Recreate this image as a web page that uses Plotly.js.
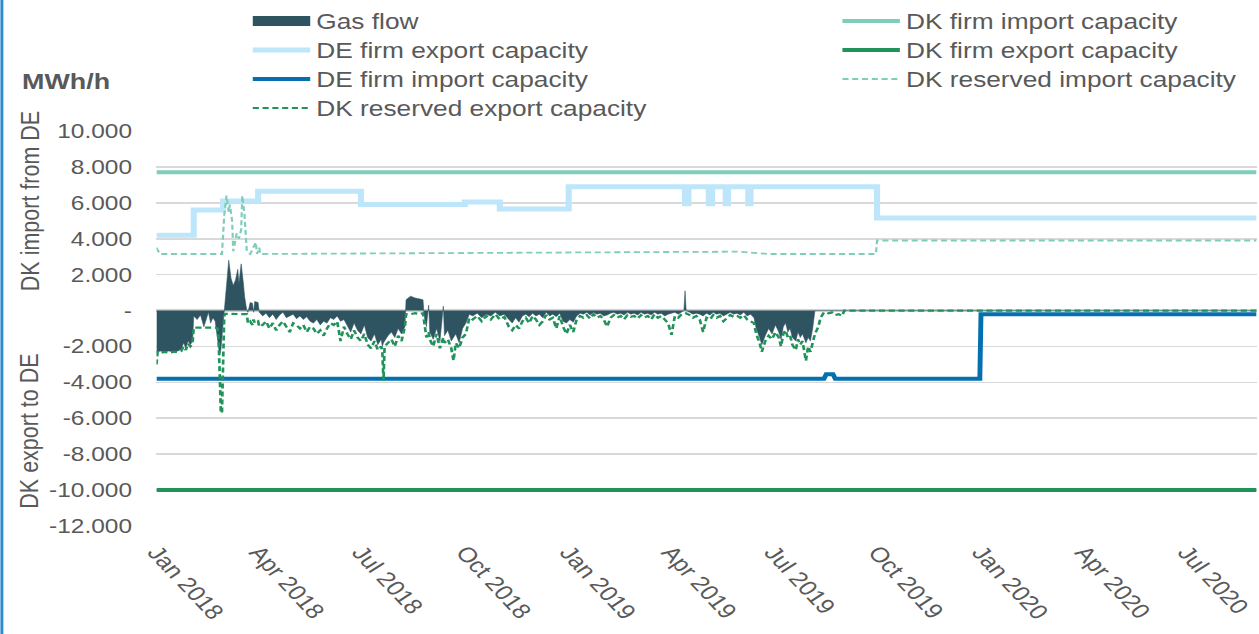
<!DOCTYPE html>
<html>
<head>
<meta charset="utf-8">
<script src="https://cdn.plot.ly/plotly-3.0.1.min.js"></script>
<style>
  html, body { margin: 0; padding: 0; background: #ffffff; }
  #wrap { width: 1259px; height: 634px; overflow: hidden; position: relative; }
  #chart { width: 1030px; height: 634px; transform: scaleX(1.22233); transform-origin: 0 0; }
</style>
</head>
<body>
<div id="wrap"><div id="chart"></div></div>
<script>
// ---------- data (MWh/h) ----------
const flowDates = [
 "2018-01-01","2018-01-02","2018-01-05","2018-01-08","2018-01-12","2018-01-16","2018-01-20","2018-01-23","2018-01-25","2018-01-27",
 "2018-01-29","2018-01-31","2018-02-02","2018-02-03","2018-02-06","2018-02-09","2018-02-12","2018-02-14","2018-02-16","2018-02-18",
 "2018-02-20","2018-02-22","2018-02-24","2018-02-25","2018-02-26","2018-02-27","2018-02-28","2018-03-01","2018-03-02","2018-03-03",
 "2018-03-04","2018-03-06","2018-03-08","2018-03-10","2018-03-12","2018-03-14","2018-03-15","2018-03-17","2018-03-19","2018-03-20",
 "2018-03-22","2018-03-23","2018-03-25","2018-03-27","2018-03-28","2018-03-29","2018-04-01","2018-04-02","2018-04-05","2018-04-08",
 "2018-04-11","2018-04-14","2018-04-17","2018-04-20","2018-04-23","2018-04-26","2018-04-29","2018-05-02","2018-05-05","2018-05-08",
 "2018-05-11","2018-05-14","2018-05-17","2018-05-20","2018-05-23","2018-05-26","2018-05-29","2018-06-01","2018-06-04","2018-06-07",
 "2018-06-10","2018-06-13","2018-06-16","2018-06-19","2018-06-22","2018-06-25","2018-06-28","2018-07-01","2018-07-04","2018-07-07",
 "2018-07-10","2018-07-13","2018-07-16","2018-07-19","2018-07-20","2018-07-21","2018-07-22","2018-07-25","2018-07-28","2018-07-31",
 "2018-08-03","2018-08-06","2018-08-09","2018-08-10","2018-08-14","2018-08-18","2018-08-22","2018-08-25","2018-08-26","2018-08-28",
 "2018-08-30","2018-08-31","2018-09-03","2018-09-06","2018-09-09","2018-09-12","2018-09-13","2018-09-16","2018-09-19","2018-09-21",
 "2018-09-23","2018-09-26","2018-09-29","2018-10-02","2018-10-05","2018-10-08","2018-10-12","2018-10-16","2018-10-20","2018-10-24",
 "2018-10-28","2018-11-01","2018-11-05","2018-11-09","2018-11-12","2018-11-15","2018-11-18","2018-11-21","2018-11-24","2018-11-27",
 "2018-11-30","2018-12-03","2018-12-06","2018-12-09","2018-12-12","2018-12-15","2018-12-18","2018-12-21","2018-12-24","2018-12-27",
 "2018-12-30","2019-01-02","2019-01-05","2019-01-08","2019-01-11","2019-01-14","2019-01-17","2019-01-20","2019-01-23","2019-01-26",
 "2019-01-29","2019-02-01","2019-02-04","2019-02-07","2019-02-10","2019-02-13","2019-02-16","2019-02-19","2019-02-22","2019-02-25",
 "2019-02-28","2019-03-03","2019-03-06","2019-03-09","2019-03-12","2019-03-15","2019-03-18","2019-03-21","2019-03-24","2019-03-27",
 "2019-03-30","2019-04-02","2019-04-05","2019-04-08","2019-04-11","2019-04-13","2019-04-14","2019-04-15","2019-04-18","2019-04-21",
 "2019-04-24","2019-04-27","2019-04-30","2019-05-03","2019-05-06","2019-05-09","2019-05-12","2019-05-15","2019-05-18","2019-05-21",
 "2019-05-24","2019-05-27","2019-05-30","2019-06-02","2019-06-05","2019-06-08","2019-06-11","2019-06-14","2019-06-16","2019-06-19",
 "2019-06-21","2019-06-24","2019-06-27","2019-06-30","2019-07-03","2019-07-06","2019-07-08","2019-07-10","2019-07-12","2019-07-14",
 "2019-07-16","2019-07-18","2019-07-21","2019-07-23","2019-07-25","2019-07-27","2019-07-30","2019-08-01","2019-08-03","2019-08-05",
 "2019-08-07","2019-08-10","2019-08-12","2019-08-15","2019-08-19","2019-08-22","2019-08-25","2019-08-28","2019-08-31","2019-09-02",
 "2020-09-01"
];
const gasFlow = [
 -2350,-2300,-2250,-2300,-2250,-2300,-2250,-2150,-1800,-2100,
 -1700,-1900,-1700,-300,-500,-250,-900,-500,-100,-700,
 -400,-600,-1400,-2000,-2500,-2200,-1500,-300,300,900,
 1600,2800,1800,1400,1700,2300,1500,2600,1500,800,
 0,-100,450,400,-100,500,450,-100,-300,-150,
 -400,-200,-500,-250,-100,-400,-300,-200,-450,-300,
 -500,-350,-600,-700,-500,-800,-600,-700,-400,-500,
 -300,-600,-500,-900,-1200,-700,-1100,-1300,-800,-1500,
 -1700,-1300,-1900,-1600,-2000,-1800,-1700,-1400,-1200,-1500,
 -1000,-1300,-900,600,800,700,650,600,-300,-900,
 300,-1200,-1600,-1000,-1700,250,-1400,-1100,-1700,-1500,
 -1300,-1800,-1000,-700,-200,-300,-150,-400,-200,-300,
 -100,-300,-200,-500,-700,-400,-650,-300,-200,-350,
 -150,-300,-200,-400,-100,-300,-200,-350,-150,-600,
 -700,-500,-650,-300,-150,-200,-100,-250,-100,-200,
 -150,-300,-250,-150,-100,-200,-150,-250,-100,-200,
 -150,-250,-100,-200,-150,-250,-100,-200,-150,-300,
 -200,-150,-100,-200,-100,0,1100,0,-100,-200,
 -150,-200,-300,-150,-250,-100,-200,-150,-300,-200,
 -100,-200,-150,-250,-100,-300,-200,-400,-1000,-1500,
 -1900,-1400,-1000,-1300,-800,-1200,-1600,-900,-700,-1200,
 -1000,-1500,-1700,-1200,-1500,-1300,-1800,-1500,-1700,-1000,
 0,0,0,0,0,0,0,0,0,0,
 0
];
const dkReservedExport = [
 -3000,-2300,-2350,-2300,-2350,-2300,-2300,-2250,-2000,-2200,
 -1850,-2000,-1800,-950,-950,-950,-950,-950,-950,-950,
 -950,-950,-1000,-1600,-3500,-5700,-5700,-2500,-300,-180,
 -180,-180,-180,-180,-180,-180,-180,-180,-180,-180,
 -200,-700,-600,-800,-500,-700,-600,-900,-800,-600,
 -1000,-700,-1100,-800,-600,-900,-1200,-700,-800,-1000,
 -800,-1200,-900,-1000,-1300,-1100,-1400,-1000,-700,-800,
 -600,-1700,-900,-1300,-1600,-1100,-1500,-1700,-1300,-1900,
 -2100,-1700,-2200,-2000,-2300,-3900,-2000,-1800,-1600,-2000,
 -1400,-1700,-900,-200,-200,-150,-200,-150,-600,-1500,
 -1200,-1600,-2000,-1300,-2100,-1500,-1800,-1600,-2100,-2800,
 -1800,-2100,-1500,-1300,-400,-500,-300,-600,-300,-500,
 -200,-500,-350,-900,-1100,-800,-1000,-600,-400,-700,
 -300,-500,-800,-600,-250,-500,-400,-1000,-300,-900,
 -1300,-800,-1200,-500,-300,-400,-250,-450,-200,-400,
 -300,-500,-900,-400,-250,-400,-300,-500,-250,-350,
 -300,-450,-250,-400,-300,-500,-200,-400,-300,-500,
 -700,-1350,-300,-400,-200,-150,-150,-150,-250,-400,
 -300,-500,-1200,-400,-500,-250,-400,-300,-600,-400,
 -250,-350,-300,-400,-250,-500,-600,-700,-1300,-1800,
 -2300,-1700,-1400,-1600,-1200,-1500,-2000,-1300,-1100,-1500,
 -1400,-1900,-2200,-1600,-1900,-1700,-2800,-2000,-2300,-1800,
 -1300,-900,-400,-100,-150,-100,-250,-200,-300,0,
 0
];

const deExportDates = ["2018-01-01","2018-02-03","2018-03-01","2018-04-01","2018-07-01","2018-10-01","2018-11-01","2019-01-01",
 "2019-04-14","2019-04-17","2019-05-05","2019-05-08","2019-05-20","2019-05-22","2019-06-09","2019-06-11","2019-10-01","2020-09-01"];
const deFirmExport = [4200,5600,6100,6650,5900,6050,5650,6900,5950,6900,5950,6900,5950,6900,5950,6900,5150,5150];

const deImportDates = ["2018-01-01","2019-08-15","2019-08-17","2019-08-23","2019-08-25","2019-12-31","2020-01-01","2020-09-01"];
const deFirmImport = [-3800,-3800,-3550,-3550,-3800,-3800,-200,-200];

const dkResImpDates = ["2018-01-01","2018-01-04","2018-02-28","2018-03-02","2018-03-04","2018-03-06","2018-03-07","2018-03-09",
 "2018-03-10","2018-03-13","2018-03-15","2018-03-17","2018-03-18","2018-03-20","2018-03-22","2018-03-25","2018-03-30","2018-03-31",
 "2018-04-02","2018-04-03","2018-04-04","2019-01-01","2019-05-31","2019-06-28","2019-09-30","2019-10-01","2020-09-01"];
const dkReservedImport = [3500,3150,3150,5300,6400,5500,5900,5000,3300,4300,4000,4500,6400,5300,3300,3150,3800,3150,3500,3150,3150,
 3220,3280,3150,3150,3900,3900];

const capDates = ["2018-01-01","2020-09-01"];
const dkFirmImport = [7700,7700];
const dkFirmExport = [-10000,-10000];

const yTickVals = [10000,8000,6000,4000,2000,0,-2000,-4000,-6000,-8000,-10000,-12000];
const yTickText = ["10.000","8.000","6.000","4.000","2.000","-","-2.000","-4.000","-6.000","-8.000","-10.000","-12.000"];
const xTickVals = ["2018-01-01","2018-04-01","2018-07-01","2018-10-01","2019-01-01","2019-04-01","2019-07-01","2019-10-01","2020-01-01","2020-04-01","2020-07-01"];
const xTickText = ["Jan 2018","Apr 2018","Jul 2018","Oct 2018","Jan 2019","Apr 2019","Jul 2019","Oct 2019","Jan 2020","Apr 2020","Jul 2020"];

// ---------- styles ----------
const FONT = "Liberation Sans, Arial, Helvetica, sans-serif";
const TXT = "#595959";
const C_GAS = "#2F5461";
const C_DKFI = "#7FCDBB";
const C_DEFE = "#BEE6FA";
const C_DKFE = "#21925A";
const C_DEFI = "#0570B0";

const traces = [
  {x: flowDates, y: gasFlow, type: "scatter", mode: "lines", fill: "tozeroy",
   fillcolor: C_GAS, line: {color: C_GAS, width: 0.5}, name: "Gas flow", showlegend: false},
  {x: [null], y: [null], type: "scatter", mode: "lines", line: {color: C_GAS, width: 13},
   name: "Gas flow", legend: "legend"},
  {x: capDates, y: dkFirmImport, type: "scatter", mode: "lines", line: {color: C_DKFI, width: 4},
   name: "DK firm import capacity", legend: "legend2"},
  {x: deExportDates, y: deFirmExport, type: "scatter", mode: "lines", line: {color: C_DEFE, width: 5, shape: "hv"},
   name: "DE firm export capacity", legend: "legend3"},
  {x: capDates, y: dkFirmExport, type: "scatter", mode: "lines", line: {color: C_DKFE, width: 4},
   name: "DK firm export capacity", legend: "legend4"},
  {x: deImportDates, y: deFirmImport, type: "scatter", mode: "lines", line: {color: C_DEFI, width: 4},
   name: "DE firm import capacity", legend: "legend5"},
  {x: dkResImpDates, y: dkReservedImport, type: "scatter", mode: "lines", line: {color: C_DKFI, width: 1.8, dash: "5px,3px"},
   name: "DK reserved import capacity", legend: "legend6"},
  {x: flowDates, y: dkReservedExport, type: "scatter", mode: "lines", line: {color: C_DKFE, width: 2.2, dash: "5px,3px"},
   name: "DK reserved export capacity", legend: "legend7"}
];

function leg(x, rowCenterPx) {
  return {
    x: x, y: 1 + (130 - rowCenterPx) / 396, xanchor: "left", yanchor: "middle",
    bgcolor: "rgba(0,0,0,0)", borderwidth: 0,
    font: {family: FONT, size: 21.5, color: TXT}, itemwidth: 47, orientation: "v"
  };
}
const COL1 = 0.082, COL2 = 0.618;

const layout = {
  width: 1030, height: 634,
  margin: {l: 128, r: 2, t: 130, b: 108},
  paper_bgcolor: "#ffffff", plot_bgcolor: "#ffffff",
  font: {family: FONT, color: TXT, size: 20},
  showlegend: true,
  legend: leg(COL1, 21),
  legend3: leg(COL1, 50),
  legend5: leg(COL1, 79),
  legend7: leg(COL1, 108),
  legend2: leg(COL2, 21),
  legend4: leg(COL2, 50),
  legend6: leg(COL2, 79),
  xaxis: {
    type: "date", range: ["2018-01-01", "2020-09-01"],
    tickmode: "array", tickvals: xTickVals, ticktext: xTickText, tickangle: 52,
    showgrid: false, zeroline: false, showline: false, ticks: "",
    ticklabelstandoff: 9, ticklabelshift: 0, ticklabeloverflow: "allow",
    tickfont: {family: FONT, size: 21, color: TXT}
  },
  yaxis: {
    range: [-12000, 10000], tickmode: "array", tickvals: yTickVals, ticktext: yTickText,
    showgrid: true, gridcolor: "#D9D9D9", gridwidth: 1.6,
    zeroline: true, zerolinecolor: "#D0D0D0", zerolinewidth: 2.6,
    showline: false, ticks: "", ticklabelstandoff: 19,
    tickfont: {family: FONT, size: 20, color: TXT}
  },
  annotations: [
    {text: "<b>MWh/h</b>", xref: "paper", yref: "paper", x: -0.082, y: 1.126, xanchor: "center", yanchor: "middle",
     showarrow: false, font: {family: FONT, size: 22, color: TXT}},
    {text: "DK import from DE", xref: "paper", yref: "paper", x: -0.115, y: 0.821, xanchor: "center", yanchor: "middle",
     textangle: -90, showarrow: false, font: {family: FONT, size: 21.5, color: TXT}},
    {text: "DK export to DE", xref: "paper", yref: "paper", x: -0.115, y: 0.24, xanchor: "center", yanchor: "middle",
     textangle: -90, showarrow: false, font: {family: FONT, size: 21.5, color: TXT}}
  ],
  shapes: [
    {type: "line", xref: "paper", yref: "paper", x0: -0.1405, x1: -0.1405, y0: -0.28, y1: 1.34,
     line: {color: "#2E8BC9", width: 2.4}}
  ]
};

Plotly.newPlot("chart", traces, layout, {displayModeBar: false, staticPlot: true});
</script>
</body>
</html>
